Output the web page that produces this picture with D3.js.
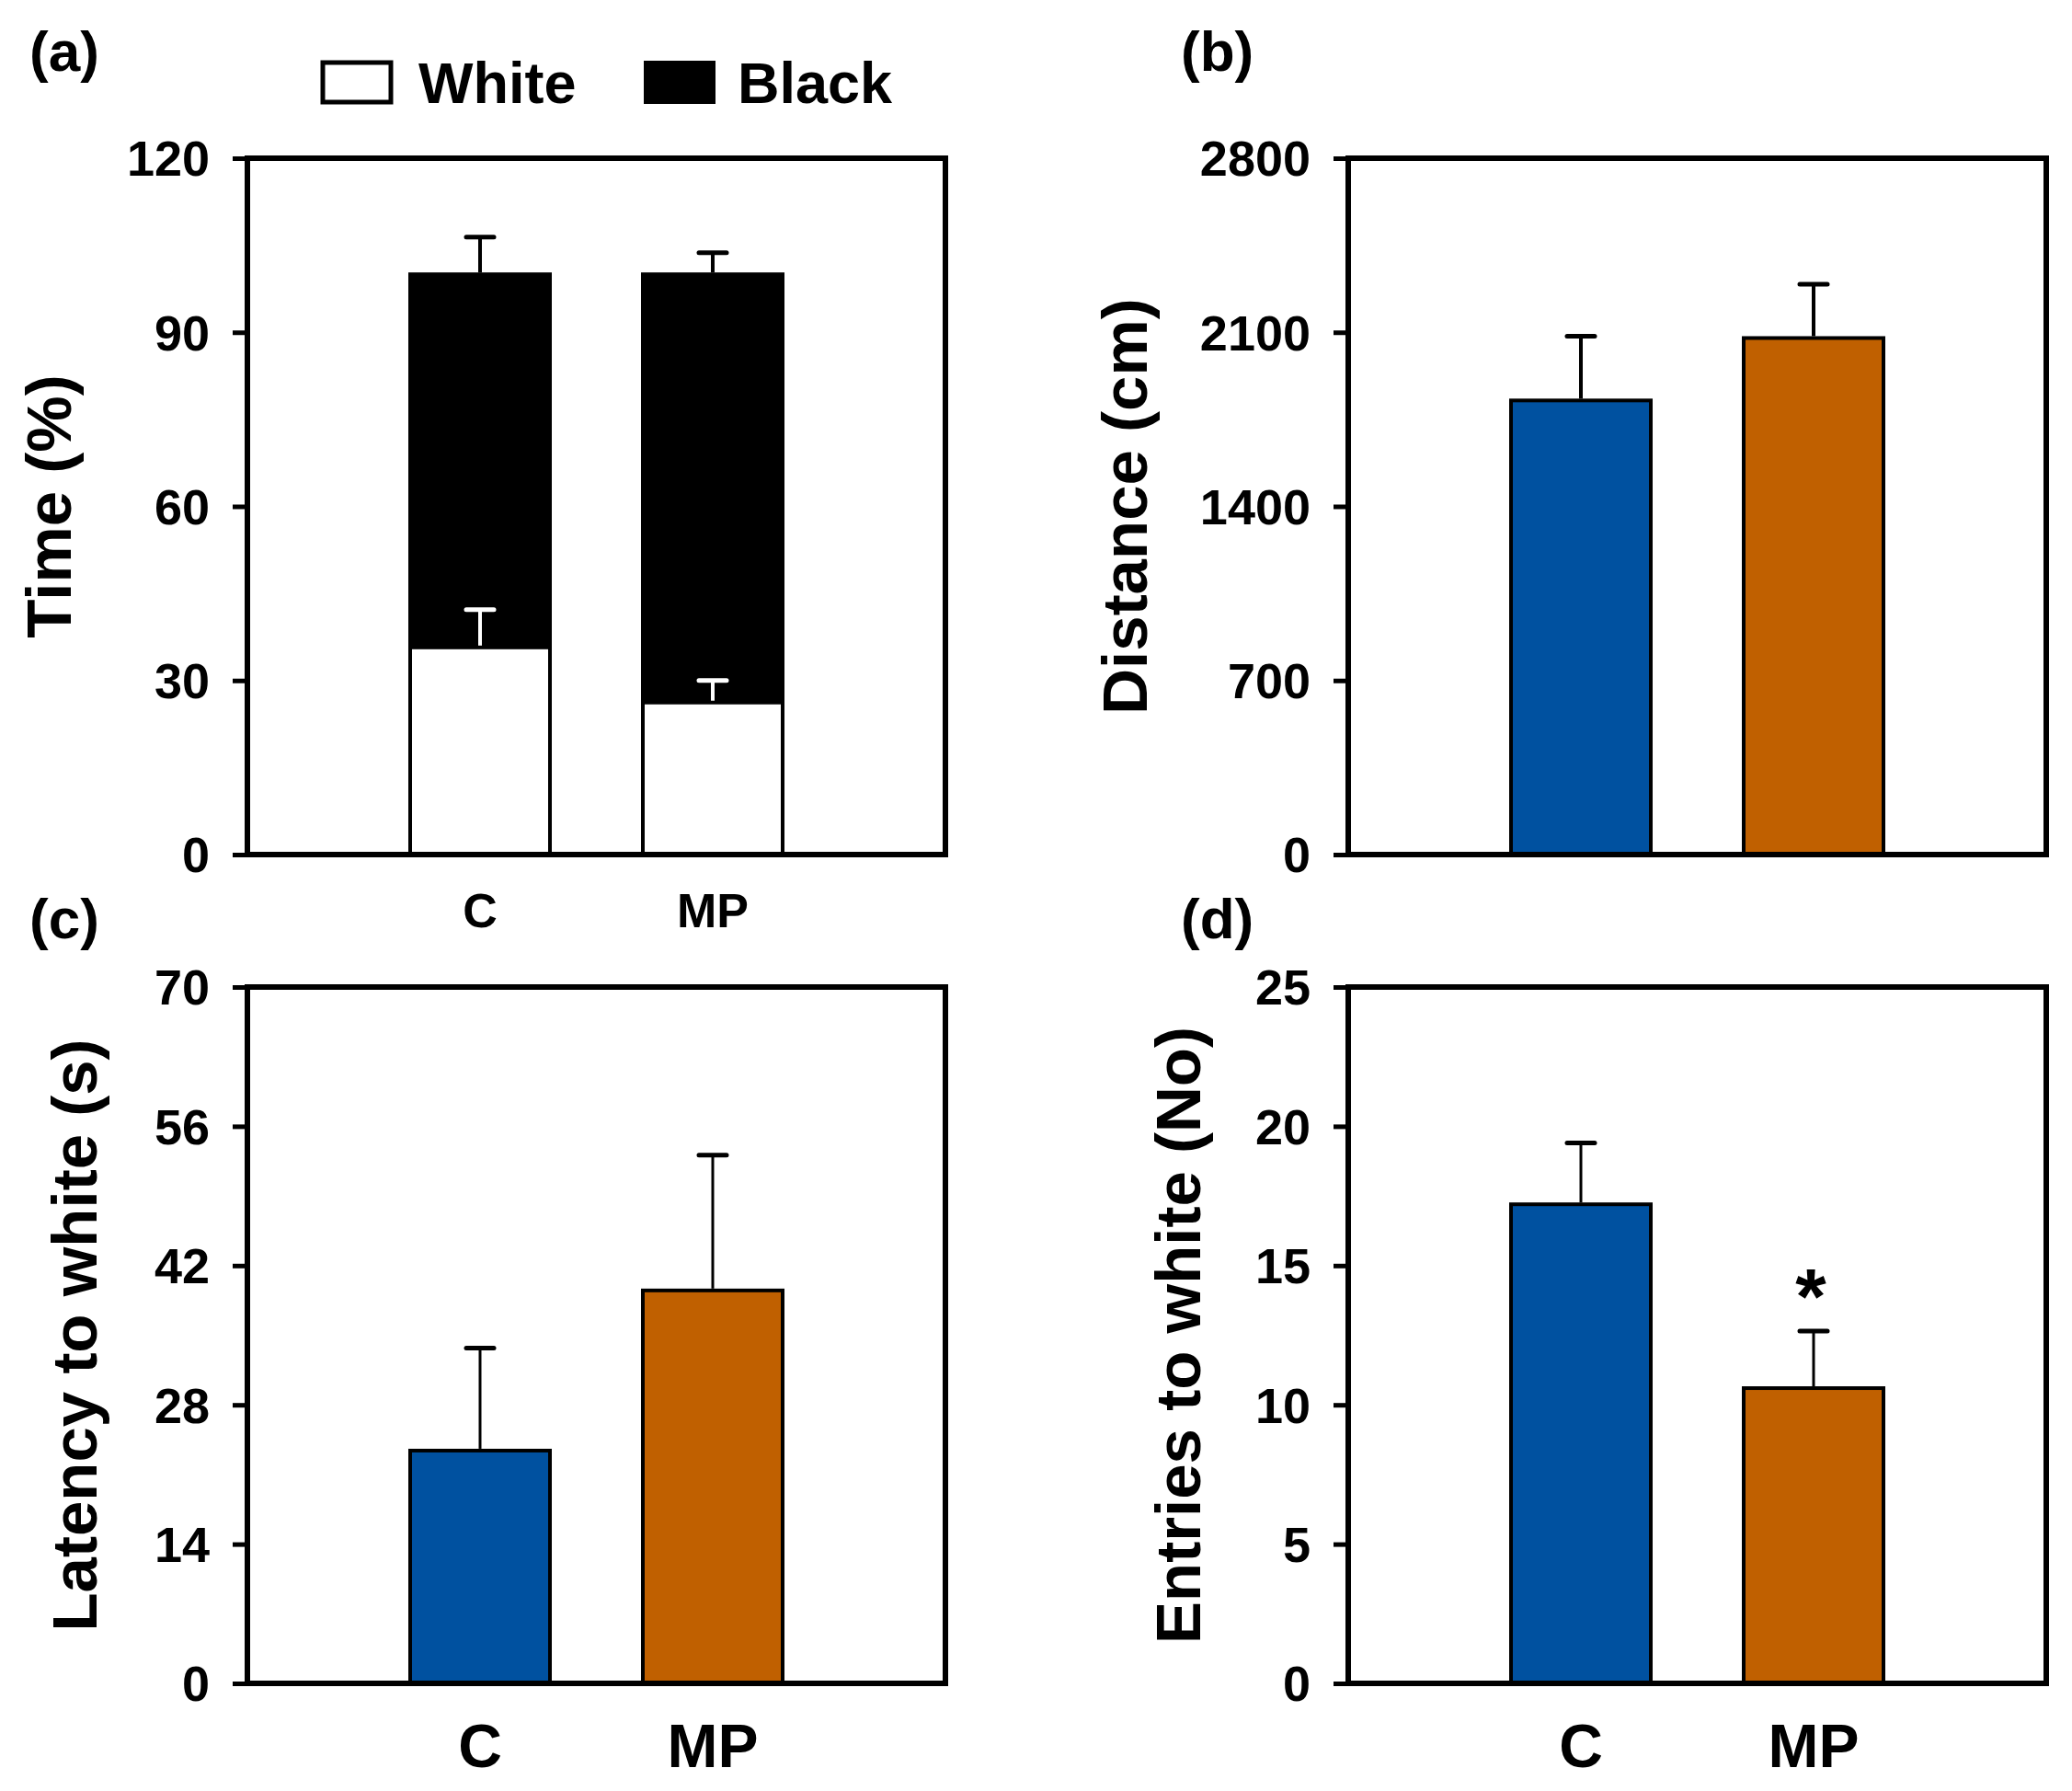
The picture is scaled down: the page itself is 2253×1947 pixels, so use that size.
<!DOCTYPE html>
<html>
<head>
<meta charset="utf-8">
<script src="https://d3js.org/d3.v7.min.js"></script>
<style>
    body { margin: 0; background: #ffffff; }
    text { font-family: "Liberation Sans", Arial, sans-serif; font-weight: bold; fill: #000; }
</style>
</head>
<body>
<svg id="fig" width="2253" height="1947"></svg>
<script>
// data
let groups = ['C', 'MP'];

let timeBlack = [100, 100];
let timeBlackErr = [6.4, 3.7];
let timeWhite = [35.7, 26.2];
let timeWhiteErr = [6.5, 3.8];
let timeTicks = [0, 30, 60, 90, 120];

let distance = [1826, 2077];
let distanceErr = [258, 216];
let distanceTicks = [0, 700, 1400, 2100, 2800];

let latency = [23.4, 39.5];
let latencyErr = [10.3, 13.6];
let latencyTicks = [0, 14, 28, 42, 56, 70];

let entries = [17.2, 10.6];
let entriesErr = [2.2, 2.05];
let entriesTicks = [0, 5, 10, 15, 20, 25];
let entriesSig = ['', '*'];

let groupColors = ['#0051a0', '#c06000'];

let svg = d3.select('#fig');
let W = 759, H = 757;
let barW = 152;

function make_panel(left, top, ticks, yLabel, labelX, tag, tagX, tagY)
{
    let g = svg.append('g').attr('transform', `translate(${left}, ${top})`);

    let xScale = d3.scalePoint()
        .domain(groups)
        .range([0, W])
        .padding(1);

    let yScale = d3.scaleLinear()
        .domain([ticks[0], ticks[ticks.length - 1]])
        .range([H, 0]);

    let yAxis = g.append('g')
        .call(d3.axisLeft(yScale)
            .tickValues(ticks)
            .tickFormat(d3.format('d'))
            .tickSize(16)
            .tickPadding(25));
    yAxis.select('.domain').remove();
    yAxis.selectAll('.tick line').attr('stroke', '#000').attr('stroke-width', 5);
    yAxis.selectAll('.tick text')
        .style('font-size', '54px')
        .style('font-family', '"Liberation Sans", Arial, sans-serif')
        .style('font-weight', 'bold')
        .attr('dy', '0.35em');

    //y label, rotated
    svg.append('text')
        .attr('transform', `translate(${labelX}, ${top + H / 2}) rotate(-90)`)
        .attr('text-anchor', 'middle')
        .style('font-size', '69px')
        .text(yLabel);

    //panel tag
    svg.append('text')
        .attr('x', tagX)
        .attr('y', tagY)
        .style('font-size', '62px')
        .text(tag);

    return {g: g, x: xScale, y: yScale};
}

function draw_bars(p, values, fills, stroke)
{
    p.g.selectAll(null)
        .data(values)
        .enter()
        .append('rect')
        .attr('x', function (d, i) {return p.x(groups[i]) - barW / 2;})
        .attr('y', function (d) {return p.y(d);})
        .attr('width', barW)
        .attr('height', function (d) {return p.y(0) - p.y(d);})
        .style('fill', function (d, i) {return fills[i];})
        .style('stroke', stroke)
        .style('stroke-width', 4);
}

function draw_errors(p, values, errs, color, lw)
{
    let e = p.g.selectAll(null)
        .data(values)
        .enter()
        .append('g');
    e.append('line')
        .attr('x1', function (d, i) {return p.x(groups[i]);})
        .attr('x2', function (d, i) {return p.x(groups[i]);})
        .attr('y1', function (d) {return p.y(d) - 2;})
        .attr('y2', function (d, i) {return p.y(d + errs[i]);})
        .style('stroke', color)
        .style('stroke-width', lw);
    e.append('line')
        .attr('x1', function (d, i) {return p.x(groups[i]) - 15;})
        .attr('x2', function (d, i) {return p.x(groups[i]) + 15;})
        .attr('y1', function (d, i) {return p.y(d + errs[i]);})
        .attr('y2', function (d, i) {return p.y(d + errs[i]);})
        .style('stroke', color)
        .style('stroke-width', 5)
        .style('stroke-linecap', 'round');
}

function draw_frame(p)
{
    p.g.append('rect')
        .attr('x', 0)
        .attr('y', 0)
        .attr('width', W)
        .attr('height', H)
        .style('fill', 'none')
        .style('stroke', '#000')
        .style('stroke-width', 6);
}

function draw_xlabels(p, size, baseline)
{
    p.g.selectAll(null)
        .data(groups)
        .enter()
        .append('text')
        .attr('x', function (d) {return p.x(d);})
        .attr('y', baseline)
        .attr('text-anchor', 'middle')
        .style('font-size', size + 'px')
        .text(function (d) {return d;});
}

// (a) stacked time bars
let pa = make_panel(269, 172, timeTicks, 'Time (%)', 77, '(a)', 32, 77);
draw_bars(pa, timeBlack, ['#000', '#000'], '#000');
draw_errors(pa, timeBlack, timeBlackErr, '#000', 4);
draw_bars(pa, timeWhite, ['#fff', '#fff'], '#000');
draw_errors(pa, timeWhite, timeWhiteErr, '#fff', 4);
draw_frame(pa);
draw_xlabels(pa, 52, H + 79);

// legend
let legend = svg.append('g');
legend.append('rect').attr('x', 351).attr('y', 68).attr('width', 74).attr('height', 43)
    .style('fill', '#fff').style('stroke', '#000').style('stroke-width', 5);
legend.append('text').attr('x', 455).attr('y', 112).style('font-size', '63px').text('White');
legend.append('rect').attr('x', 700).attr('y', 66).attr('width', 78).attr('height', 47)
    .style('fill', '#000');
legend.append('text').attr('x', 802).attr('y', 112).style('font-size', '63px').text('Black');

// (b) distance
let pb = make_panel(1466, 172, distanceTicks, 'Distance (cm)', 1247, '(b)', 1284, 77);
draw_bars(pb, distance, groupColors, '#000');
draw_errors(pb, distance, distanceErr, '#000', 4);
draw_frame(pb);

// (c) latency
let pc = make_panel(269, 1073, latencyTicks, 'Latency to white (s)', 105, '(c)', 32, 1020);
draw_bars(pc, latency, groupColors, '#000');
draw_errors(pc, latency, latencyErr, '#000', 3);
draw_frame(pc);
draw_xlabels(pc, 66, H + 91);

// (d) entries
let pd = make_panel(1466, 1073, entriesTicks, 'Entries to white (No)', 1305, '(d)', 1284, 1020);
draw_bars(pd, entries, groupColors, '#000');
draw_errors(pd, entries, entriesErr, '#000', 3);
draw_frame(pd);
draw_xlabels(pd, 66, H + 91);

pd.g.selectAll(null)
    .data(entries)
    .enter()
    .append('text')
    .attr('x', function (d, i) {return pd.x(groups[i]) - 3;})
    .attr('y', function (d, i) {return pd.y(d + entriesErr[i]) - 8;})
    .attr('text-anchor', 'middle')
    .style('font-size', '86px')
    .text(function (d, i) {return entriesSig[i];});
</script>
</body>
</html>
